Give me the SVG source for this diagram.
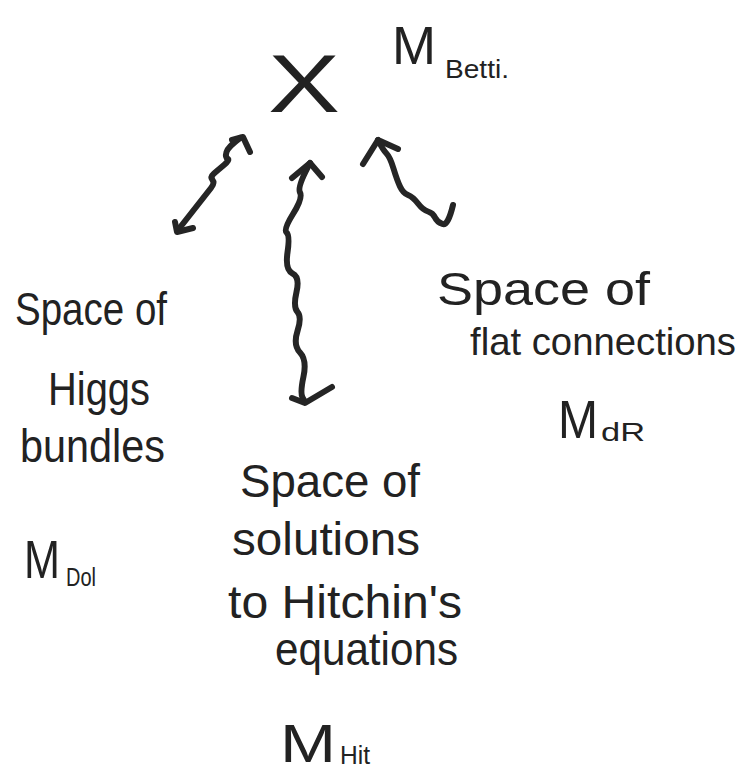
<svg xmlns="http://www.w3.org/2000/svg" width="753" height="773" viewBox="0 0 753 773">
<style>
.t{font-family:"Liberation Sans",Arial,sans-serif;fill:#222;font-size:46px}
.m{font-family:"Liberation Sans",Arial,sans-serif;fill:#222;font-size:54px}
.s{font-family:"Liberation Sans",Arial,sans-serif;fill:#222;font-size:26px}
.w{fill:none;stroke:#252525;stroke-width:6;stroke-linecap:round;stroke-linejoin:round}
</style>
<rect width="753" height="773" fill="#fff"/>
<g id="node-x"><text class="t" x="268" y="112" style="font-size:82px" textLength="72" lengthAdjust="spacingAndGlyphs">X</text></g>
<g id="label-betti"><text class="m" x="392" y="64" textLength="44" lengthAdjust="spacingAndGlyphs">M</text><text class="s" x="445" y="78" textLength="64" lengthAdjust="spacingAndGlyphs">Betti.</text></g>
<g id="node-higgs">
<text class="t" x="15" y="325" textLength="152" lengthAdjust="spacingAndGlyphs">Space of</text>
<text class="t" x="48" y="405" textLength="102" lengthAdjust="spacingAndGlyphs">Higgs</text>
<text class="t" x="20" y="462" textLength="145" lengthAdjust="spacingAndGlyphs">bundles</text>
<text class="m" x="24" y="578" textLength="36" lengthAdjust="spacingAndGlyphs">M</text><text class="s" x="66" y="586" textLength="30" lengthAdjust="spacingAndGlyphs">Dol</text>
</g>
<g id="node-hitchin">
<text class="t" x="240" y="497" textLength="180" lengthAdjust="spacingAndGlyphs">Space of</text>
<text class="t" x="232" y="555" textLength="188" lengthAdjust="spacingAndGlyphs">solutions</text>
<text class="t" x="228" y="618" textLength="234" lengthAdjust="spacingAndGlyphs">to Hitchin's</text>
<text class="t" x="275" y="665" textLength="183" lengthAdjust="spacingAndGlyphs">equations</text>
<text class="m" x="280" y="762" textLength="56" lengthAdjust="spacingAndGlyphs">M</text><text class="s" x="340" y="764" textLength="30" lengthAdjust="spacingAndGlyphs">Hit</text>
</g>
<g id="node-flat">
<text class="t" x="437" y="305" textLength="213" lengthAdjust="spacingAndGlyphs">Space of</text>
<text class="t" x="470" y="355" style="font-size:39px" textLength="266" lengthAdjust="spacingAndGlyphs">flat connections</text>
<text class="m" x="558" y="438" textLength="40" lengthAdjust="spacingAndGlyphs">M</text><text class="s" x="601" y="441" textLength="44" lengthAdjust="spacingAndGlyphs">dR</text>
</g>
<g id="connectors">
<path class="w" d="M240 138 Q228 147 226.5 152 Q225 157 227.5 158.5 Q230 160 224 165 Q218 170 214 173.5 Q210 177 212.5 180 Q215 183 211 188 L178 230"/>
<path class="w" d="M232 140 L243 137 L250 152"/>
<path class="w" d="M175 222 L177 232 L193 228"/>
<path class="w" d="M310 163 Q297 187 300 192.5 Q303 198 293 214 Q283 230 286.5 232.5 Q290 235 287.5 252.5 Q285 270 292.5 273.5 Q300 277 296.5 292 Q293 307 297.5 312 Q302 317 297.5 331 Q293 345 300 352.5 Q307 360 303.5 376.5 Q300 393 302.5 397.5 L305 402"/>
<path class="w" d="M292 178 L310 163 L322 177"/>
<path class="w" d="M292 398 L305 403 L332 387"/>
<path class="w" d="M378 140 Q383 150 386.5 153.5 Q390 157 393.5 168.5 Q397 180 400 186.5 Q403 193 408 195 Q413 197 418 203.5 Q423 210 428 211.5 Q433 213 435 217.5 Q437 222 442.5 224 Q448 226 453 205"/>
<path class="w" d="M363 164 L378 140 L398 149"/>
</g>
</svg>
